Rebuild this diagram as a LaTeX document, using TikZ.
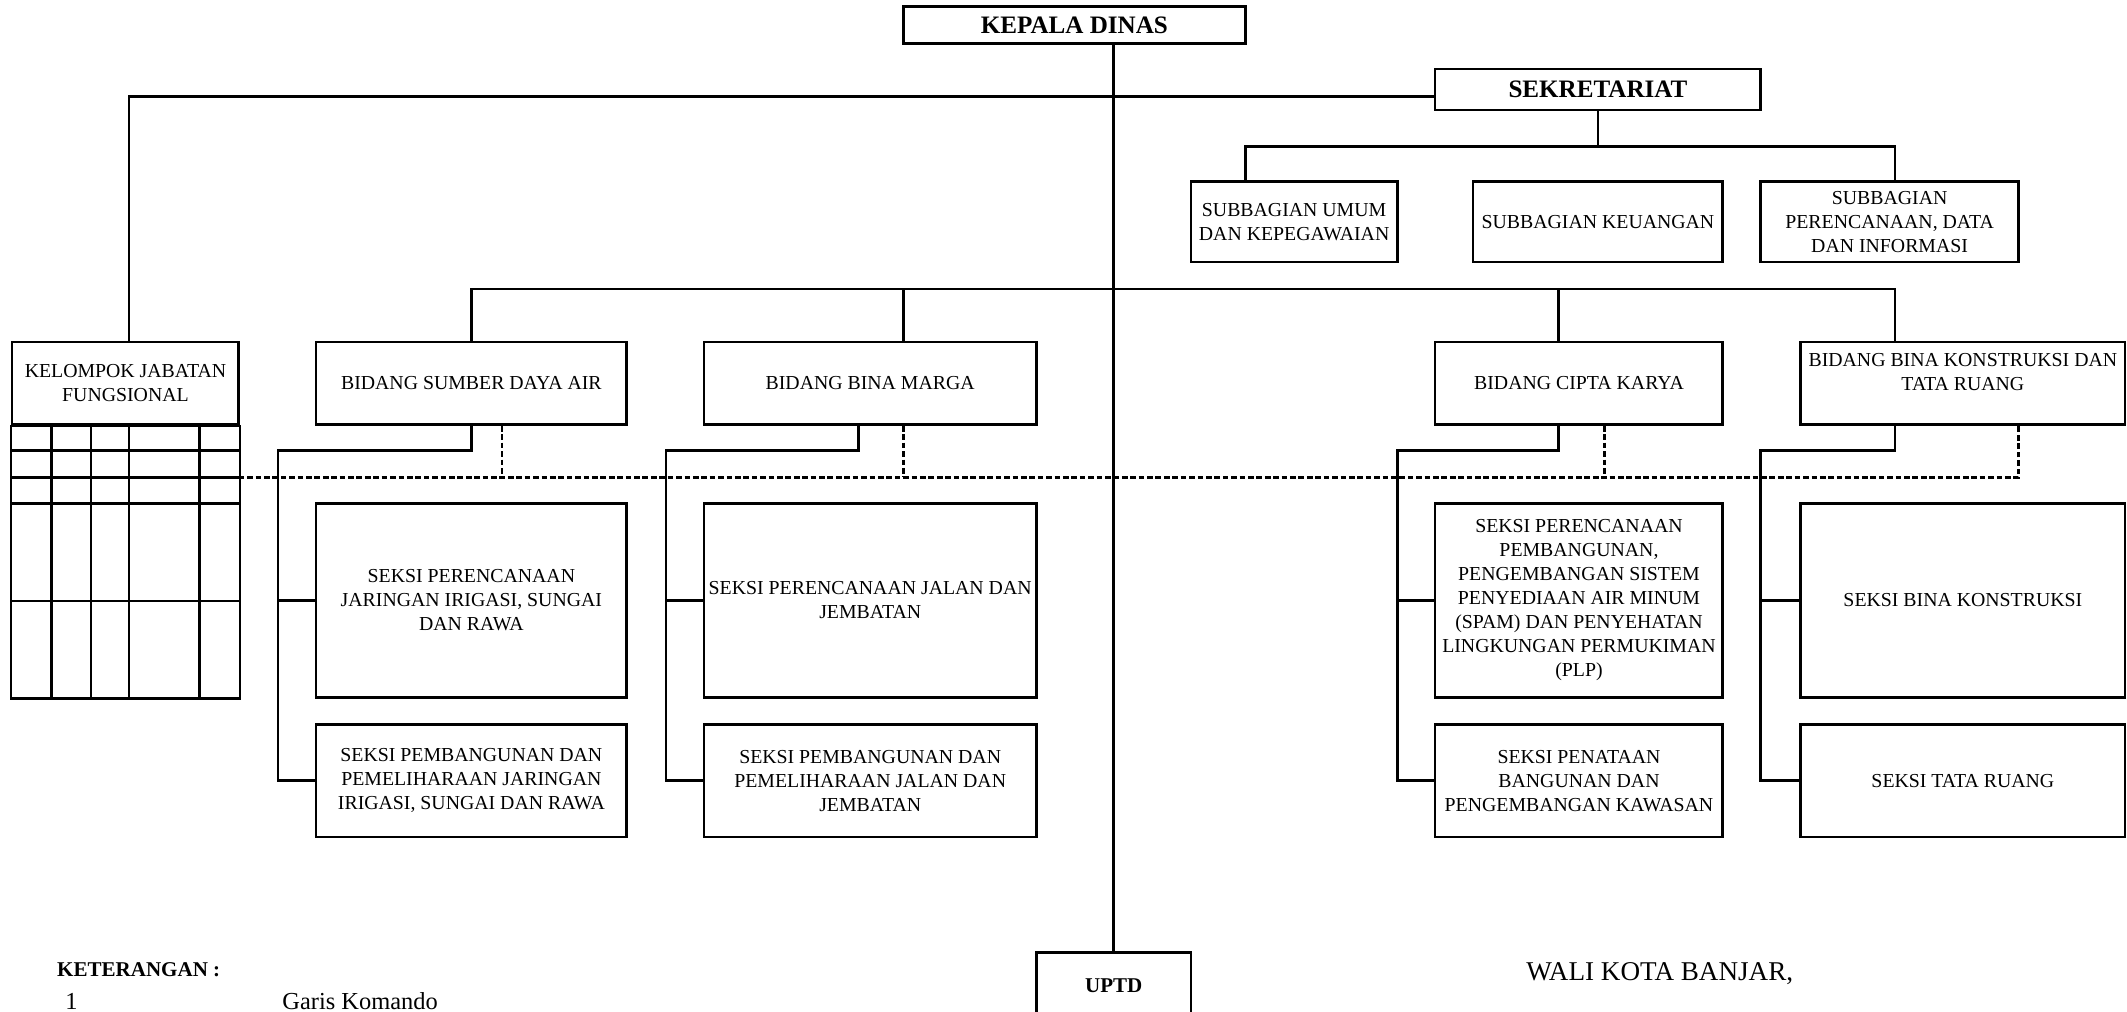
\documentclass[tikz,border=0pt]{standalone}
\usepackage{fontspec}
\setmainfont{Liberation Serif}
\usetikzlibrary{calc}
\newcommand\orgtxt{\fontsize{14.6pt}{17.7pt}\selectfont}
\newcommand\orgtitle{\fontsize{18.5pt}{22pt}\selectfont\bfseries}
\newcommand\orgsbold{\fontsize{15.5pt}{18pt}\selectfont\bfseries}
\begin{document}
\begin{tikzpicture}[x=1pt,y=-1pt,
  ln/.style={line width=1.9pt,line join=miter},
  dsh/.style={line width=1.9pt,dash pattern=on 4.2pt off 2pt},
  box/.style={draw,line width=1.9pt,inner sep=0pt,align=center,font=\orgtxt},
  tbox/.style={box,font=\orgtitle},
  sbox/.style={box,font=\orgsbold}]
\path[use as bounding box] (0,0) rectangle (1568,746);
\clip (0,0) rectangle (1568,746);

% top level
\node[tbox,minimum width=252pt,minimum height=27pt] (kd) at (792,18.5) {KEPALA DINAS};
\node[tbox,minimum width=240pt,minimum height=30pt] (sek) at (1178,66) {SEKRETARIAT};

% subbagian
\node[box,minimum width=152pt,minimum height=59pt] (su) at (954,163.5) {SUBBAGIAN UMUM\\DAN KEPEGAWAIAN};
\node[box,minimum width=184pt,minimum height=59pt] (sk) at (1178,163.5) {SUBBAGIAN KEUANGAN};
\node[box,minimum width=190pt,minimum height=59pt] (sp) at (1393,163.5) {SUBBAGIAN\\PERENCANAAN, DATA\\DAN INFORMASI};

% bidang
\node[box,minimum width=167pt,minimum height=61pt] (kjf) at (92.5,282.5) {KELOMPOK JABATAN\\FUNGSIONAL};
\node[box,minimum width=229pt,minimum height=61pt] (bsda) at (347.5,282.5) {BIDANG SUMBER DAYA AIR};
\node[box,minimum width=245pt,minimum height=61pt] (bbm) at (641.5,282.5) {BIDANG BINA MARGA};
\node[box,minimum width=212pt,minimum height=61pt] (bck) at (1164,282.5) {BIDANG CIPTA KARYA};
\node[box,minimum width=239pt,minimum height=61pt] (bbk) at (1447,282.5) {\parbox[c][44pt][t]{239pt}{\centering BIDANG BINA KONSTRUKSI DAN\\TATA RUANG}};

% seksi row 1
\node[box,minimum width=229pt,minimum height=143pt] (s1a) at (347.5,442.5) {SEKSI PERENCANAAN\\JARINGAN IRIGASI, SUNGAI\\DAN RAWA};
\node[box,minimum width=245pt,minimum height=143pt] (s1b) at (641.5,442.5) {SEKSI PERENCANAAN JALAN DAN\\JEMBATAN};
\node[box,minimum width=212pt,minimum height=143pt] (s1c) at (1164,442.5) {SEKSI PERENCANAAN\\PEMBANGUNAN,\\PENGEMBANGAN SISTEM\\PENYEDIAAN AIR MINUM\\(SPAM) DAN PENYEHATAN\\LINGKUNGAN PERMUKIMAN\\(PLP)};
\node[box,minimum width=239pt,minimum height=143pt] (s1d) at (1447,442.5) {SEKSI BINA KONSTRUKSI};

% seksi row 2
\node[box,minimum width=229pt,minimum height=83pt] (s2a) at (347.5,575.5) {SEKSI PEMBANGUNAN DAN\\PEMELIHARAAN JARINGAN\\IRIGASI, SUNGAI DAN RAWA};
\node[box,minimum width=245pt,minimum height=83pt] (s2b) at (641.5,575.5) {SEKSI PEMBANGUNAN DAN\\PEMELIHARAAN JALAN DAN\\JEMBATAN};
\node[box,minimum width=212pt,minimum height=83pt] (s2c) at (1164,575.5) {SEKSI PENATAAN\\BANGUNAN DAN\\PENGEMBANGAN KAWASAN};
\node[box,minimum width=239pt,minimum height=83pt] (s2d) at (1447,575.5) {SEKSI TATA RUANG};

% UPTD
\node[sbox,minimum width=114pt,minimum height=50pt] (uptd) at (821,727) {UPTD};

% table below kelompok jabatan fungsional
\draw[ln] (kjf.south west) rectangle ($(kjf.south east)+(0,201)$);
\foreach \xx in {38,67,95,147} \draw[ln] (\xx,313) -- (\xx,514);
\foreach \yy in {332,352,371,443} \draw[ln] (9,\yy) -- (176,\yy);

% coordinates for bends
\coordinate (k95) at (95,71);
\coordinate (sbL) at (918,108);
\coordinate (sbR) at (1397,108);
\coordinate (bar1) at (347.5,213);
\coordinate (bar2) at (1397,213);
\coordinate (bmx) at (666,213);
\coordinate (bcx) at (1149,213);
\coordinate (brA) at (205,332);
\coordinate (stB) at (633,332);
\coordinate (brB) at (491,332);
\coordinate (stC) at (1149,332);
\coordinate (brC) at (1030,332);
\coordinate (stD) at (1397,332);
\coordinate (brD) at (1298,332);
\coordinate (dl) at (176,352);
\coordinate (dr) at (1488,352);
\coordinate (dA) at (370,352);
\coordinate (dB) at (666,352);
\coordinate (dC) at (1183,352);

% main command line
\draw[ln] (kd.south -| uptd.north) -- (uptd.north);
\draw[ln] (kjf.north -| k95) -- (k95) -- (k95 -| sek.west);

% sekretariat
\draw[ln] (sek.south) -- (sek.south |- sbL);
\draw[ln] (su.north -| sbL) -- (sbL) -- (sbR) -- (sp.north -| sbR);

% bidang bar
\draw[ln] (bsda.north) -- (bar1) -- (bar2) -- (bbk.north -| bar2);
\draw[ln] (bmx) -- (bbm.north -| bmx);
\draw[ln] (bcx) -- (bck.north -| bcx);

% brackets to seksi
\draw[ln] (bsda.south) |- (brA) -- (brA |- s2a.west) -- (s2a.west);
\draw[ln] (brA |- s1a.west) -- (s1a.west);
\draw[ln] (bbm.south -| stB) -- (stB) -- (brB) -- (brB |- s2b.west) -- (s2b.west);
\draw[ln] (brB |- s1b.west) -- (s1b.west);
\draw[ln] (bck.south -| stC) -- (stC) -- (brC) -- (brC |- s2c.west) -- (s2c.west);
\draw[ln] (brC |- s1c.west) -- (s1c.west);
\draw[ln] (bbk.south -| stD) -- (stD) -- (brD) -- (brD |- s2d.west) -- (s2d.west);
\draw[ln] (brD |- s1d.west) -- (s1d.west);

% coordination (dashed)
\draw[dsh] (dl) -- (dr) -- (bbk.south -| dr);
\draw[dsh] (bsda.south -| dA) -- (dA);
\draw[dsh] (bbm.south -| dB) -- (dB);
\draw[dsh] (bck.south -| dC) -- (dC);

% legend and signature
\node[font=\orgsbold,anchor=base west,inner sep=0pt] (ket) at (42,720) {KETERANGAN :};
\node[font=\fontsize{18pt}{20pt}\selectfont,anchor=base west,inner sep=0pt] (k1) at (48,744.5) {1};
\node[font=\fontsize{18pt}{20pt}\selectfont,anchor=base west,inner sep=0pt] (k1t) at (208,744.5) {Garis Komando};
\node[font=\fontsize{20pt}{22pt}\selectfont,anchor=base west,inner sep=0pt] (wali) at (1125,723) {WALI KOTA BANJAR,};
\end{tikzpicture}
\end{document}
